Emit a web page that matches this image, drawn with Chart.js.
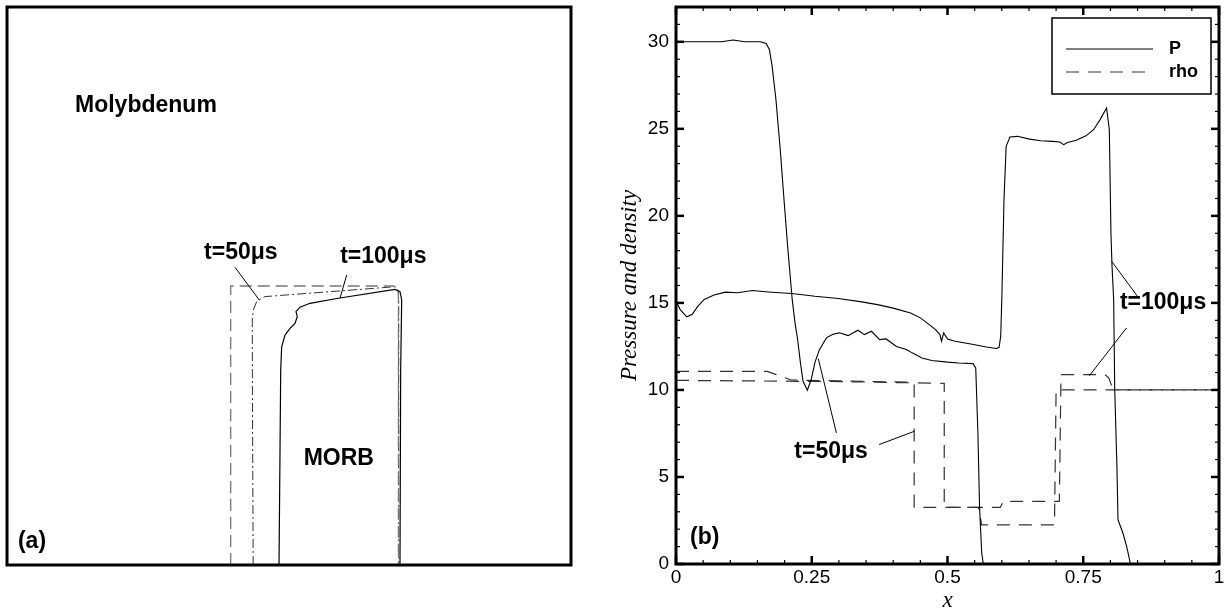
<!DOCTYPE html>
<html>
<head>
<meta charset="utf-8">
<script src="https://cdn.jsdelivr.net/npm/chart.js@4.4.1/dist/chart.umd.min.js"></script>
<style>
  html, body { margin: 0; padding: 0; background: #fff; }
  #wrap { position: relative; width: 1230px; height: 612px; }
  canvas { position: absolute; top: 0; }
  #panelA { left: 0; }
  #panelB { left: 615px; }
</style>
</head>
<body>
<div id="wrap">
  <canvas id="panelA" width="615" height="612"></canvas>
  <canvas id="panelB" width="615" height="612"></canvas>
</div>
<script>
// ---- panel (a): interface shapes, box coordinates 0..1 ----
const aInitX = [0.3966, 0.3966, 0.686, 0.692, 0.694, 0.694];
const aInitY = [0, 0.5, 0.5, 0.496, 0.488, 0];
const a50X = [0.4365, 0.4352, 0.4349, 0.4367, 0.4427, 0.4486, 0.4574, 0.688, 0.6935, 0.6945, 0.6945];
const a50Y = [0, 0.3, 0.439, 0.457, 0.472, 0.476, 0.481, 0.4987, 0.493, 0.475, 0];
const a100X = [0.4823, 0.4853, 0.487, 0.4929, 0.5018, 0.5106, 0.5147, 0.5124, 0.5195, 0.5372, 0.5874, 0.688, 0.6968, 0.6998, 0.698, 0.6968];
const a100Y = [0, 0.3495, 0.391, 0.412, 0.424, 0.433, 0.445, 0.454, 0.462, 0.469, 0.478, 0.494, 0.4898, 0.475, 0.3495, 0];

// ---- panel (b): pressure and density along x ----
const p50X = [0, 0.084, 0.105, 0.127, 0.156, 0.166, 0.172, 0.177, 0.184, 0.192, 0.199, 0.206, 0.214, 0.219, 0.224, 0.229, 0.234, 0.242, 0.249, 0.256, 0.264, 0.277, 0.289, 0.301, 0.317, 0.335, 0.347, 0.36, 0.375, 0.387, 0.406, 0.424, 0.435, 0.453, 0.471, 0.5, 0.521, 0.547, 0.552, 0.556, 0.559, 0.563, 0.566, 1];
const p50Y = [30, 30, 30.1, 30, 30, 29.9, 29.56, 28.6, 26.7, 23.8, 20.9, 18.1, 15.2, 13.9, 12.9, 11.6, 10.5, 9.98, 10.6, 11.6, 12.3, 12.99, 13.2, 13.28, 13.12, 13.43, 13.18, 13.37, 12.89, 12.93, 12.5, 12.32, 12.13, 11.84, 11.69, 11.6, 11.55, 11.51, 11.26, 7.5, 3.3, 0.63, 0, 0];
const p100X = [0, 0.008, 0.02, 0.03, 0.04, 0.052, 0.07, 0.091, 0.113, 0.141, 0.17, 0.213, 0.256, 0.299, 0.342, 0.371, 0.4, 0.432, 0.45, 0.464, 0.478, 0.486, 0.489, 0.493, 0.5, 0.514, 0.543, 0.572, 0.59, 0.595, 0.598, 0.6, 0.604, 0.608, 0.615, 0.629, 0.651, 0.672, 0.694, 0.707, 0.714, 0.721, 0.737, 0.755, 0.769, 0.781, 0.793, 0.798, 0.801, 0.803, 0.806, 0.808, 0.812, 0.814, 0.823, 0.83, 0.837, 1];
const p100Y = [15.1, 14.6, 14.2, 14.35, 14.8, 15.2, 15.45, 15.62, 15.58, 15.71, 15.63, 15.54, 15.38, 15.25, 15.06, 14.9, 14.7, 14.42, 14.14, 13.81, 13.47, 13.18, 12.8, 13.28, 12.93, 12.8, 12.64, 12.47, 12.38, 12.45, 13.08, 15.2, 20.9, 24.0, 24.53, 24.57, 24.41, 24.32, 24.28, 24.24, 24.09, 24.22, 24.34, 24.6, 24.95, 25.53, 26.2, 24.95, 19.0, 17.1, 15.2, 10.0, 5.6, 2.55, 1.78, 1.0, 0, 0];
const rho50X = [0, 0.168, 0.212, 0.4386, 0.4386, 0.557, 0.563, 0.697, 0.7, 1];
const rho50Y = [11.07, 11.07, 10.57, 10.44, 3.25, 3.25, 2.25, 2.25, 10.0, 10.0];
const rho100X = [0, 0.3, 0.494, 0.494, 0.597, 0.603, 0.706, 0.709, 0.79, 0.797, 0.805, 1];
const rho100Y = [10.55, 10.48, 10.38, 3.25, 3.25, 3.6, 3.6, 10.88, 10.88, 10.7, 10.0, 10.0];

const xTicks = [0, 0.25, 0.5, 0.75, 1];
const yTicks = [0, 5, 10, 15, 20, 25, 30];

const BOLD = 'bold 23px "Liberation Sans", Arial, sans-serif';

function pts(xs, ys) {
    return xs.map((x, i) => ({ x: x, y: ys[i] }));
}

function line(ctx, x1, y1, x2, y2) {
    ctx.beginPath();
    ctx.moveTo(x1, y1);
    ctx.lineTo(x2, y2);
    ctx.stroke();
}

// labels and leader lines are placed in data coordinates
function drawNotes(chart, notes, leaders) {
    const { ctx, scales: { x, y } } = chart;
    ctx.save();
    ctx.strokeStyle = '#000';
    ctx.lineWidth = 1;
    leaders.forEach(l => {
        line(ctx, x.getPixelForValue(l[0]), y.getPixelForValue(l[1]), x.getPixelForValue(l[2]), y.getPixelForValue(l[3]));
    });
    ctx.fillStyle = '#000';
    ctx.font = BOLD;
    ctx.textBaseline = 'middle';
    notes.forEach(n => {
        ctx.textAlign = n.align || 'center';
        ctx.fillText(n.text, x.getPixelForValue(n.x), y.getPixelForValue(n.y));
    });
    ctx.restore();
}

// Panel (a)
const notesA = [
    { text: 'Molybdenum', x: 0.1206, y: 0.8226, align: 'left' },
    { text: 'MORB', x: 0.5883, y: 0.191 },
    { text: '(a)', x: 0.0443, y: 0.0418 },
    { text: 't=50μs', x: 0.4146, y: 0.56 },
    { text: 't=100μs', x: 0.6672, y: 0.5525 }
];
const leadersA = [
    [0.4043, 0.5335, 0.4473, 0.4749],
    [0.6023, 0.5197, 0.5904, 0.478]
];

new Chart(document.getElementById('panelA'), {
    type: 'line',
    data: {
        datasets: [
            { data: pts(aInitX, aInitY), borderColor: '#777', borderWidth: 1.3, borderDash: [12, 6] },
            { data: pts(a50X, a50Y), borderColor: '#333', borderWidth: 1, borderDash: [9, 3, 2, 3] },
            { data: pts(a100X, a100Y), borderColor: '#000', borderWidth: 1.2 }
        ]
    },
    options: {
        responsive: false,
        animation: false,
        events: [],
        layout: { padding: { left: 7, top: 7, right: 44, bottom: 47 } },
        elements: { point: { radius: 0 }, line: { tension: 0 } },
        plugins: { legend: { display: false }, tooltip: { enabled: false } },
        scales: {
            x: { type: 'linear', min: 0, max: 1, display: false },
            y: { type: 'linear', min: 0, max: 1, display: false }
        }
    },
    plugins: [{
        id: 'boxA',
        afterDatasetsDraw(chart) {
            const { ctx, chartArea: a } = chart;
            ctx.save();
            ctx.strokeStyle = '#000';
            ctx.lineWidth = 3;
            ctx.strokeRect(a.left, a.top, a.width, a.height);
            ctx.restore();
            drawNotes(chart, notesA, leadersA);
        }
    }]
});

// Panel (b)
const notesB = [
    { text: '(b)', x: 0.053, y: 1.51 },
    { text: 't=50μs', x: 0.2857, y: 6.47 },
    { text: 't=100μs', x: 0.897, y: 15.0 }
];
const leadersB = [
    [0.2954, 7.53, 0.262, 11.8],
    [0.374, 6.86, 0.4386, 7.62],
    [0.852, 15.29, 0.8023, 17.39],
    [0.8296, 13.56, 0.7614, 10.82]
];

const ticksAndLegend = {
    id: 'ticksAndLegend',
    afterDatasetsDraw(chart) {
        const { ctx, chartArea: a, scales: { x, y } } = chart;
        ctx.save();
        ctx.strokeStyle = '#000';
        // minor ticks, pointing inward
        ctx.lineWidth = 1.2;
        for (let i = 0; i <= 20; i++) {
            const px = x.getPixelForValue(i * 0.05);
            line(ctx, px, a.bottom, px, a.bottom - 4);
            line(ctx, px, a.top, px, a.top + 4);
        }
        for (let v = 0; v <= 32; v++) {
            const py = y.getPixelForValue(v);
            line(ctx, a.left, py, a.left + 4, py);
            line(ctx, a.right, py, a.right - 4, py);
        }
        // major ticks
        ctx.lineWidth = 2.5;
        xTicks.forEach(v => {
            const px = x.getPixelForValue(v);
            line(ctx, px, a.bottom, px, a.bottom - 8);
            line(ctx, px, a.top, px, a.top + 8);
        });
        yTicks.forEach(v => {
            const py = y.getPixelForValue(v);
            line(ctx, a.left, py, a.left + 8, py);
            line(ctx, a.right, py, a.right - 8, py);
        });
        ctx.lineWidth = 3;
        ctx.strokeRect(a.left, a.top, a.width, a.height);

        // legend box
        const bx = a.right - 167, by = a.top + 11;
        ctx.lineWidth = 1.5;
        ctx.strokeRect(bx, by, 159, 76);
        const seen = [];
        chart.data.datasets.forEach(ds => {
            if (seen.indexOf(ds.label) >= 0) return;
            const ly = by + 31 + seen.length * 23;
            seen.push(ds.label);
            ctx.strokeStyle = ds.borderColor;
            ctx.lineWidth = ds.borderWidth;
            ctx.setLineDash(ds.borderDash || []);
            line(ctx, bx + 14, ly, bx + 101, ly);
            ctx.setLineDash([]);
            ctx.fillStyle = '#000';
            ctx.font = 'bold 18px "Liberation Sans", Arial, sans-serif';
            ctx.textAlign = 'left';
            ctx.textBaseline = 'middle';
            ctx.fillText(ds.label, bx + 117, ly);
        });
        ctx.restore();
        drawNotes(chart, notesB, leadersB);
    }
};

const tickFont = { family: '"Liberation Sans", Arial, sans-serif', size: 19 };
const titleFont = { family: '"Liberation Serif", "Times New Roman", serif', size: 23, style: 'italic', lineHeight: 1 };

new Chart(document.getElementById('panelB'), {
    type: 'line',
    data: {
        datasets: [
            { label: 'P', data: pts(p50X, p50Y), borderColor: '#000', borderWidth: 1.1 },
            { label: 'P', data: pts(p100X, p100Y), borderColor: '#000', borderWidth: 1.1 },
            { label: 'rho', data: pts(rho50X, rho50Y), borderColor: '#333', borderWidth: 1.2, borderDash: [13, 9] },
            { label: 'rho', data: pts(rho100X, rho100Y), borderColor: '#333', borderWidth: 1.2, borderDash: [13, 9] }
        ]
    },
    options: {
        responsive: false,
        animation: false,
        events: [],
        layout: { padding: { left: 0, top: 7, right: 11, bottom: 0 } },
        elements: { point: { radius: 0 }, line: { tension: 0 } },
        plugins: { legend: { display: false }, tooltip: { enabled: false } },
        scales: {
            x: {
                type: 'linear', min: 0, max: 1,
                grid: { display: false, drawTicks: false }, border: { display: false },
                afterBuildTicks: s => { s.ticks = xTicks.map(v => ({ value: v })); },
                afterFit: s => { s.height = 48; s.paddingLeft = 0; s.paddingRight = 0; },
                ticks: { color: '#000', font: tickFont, padding: 2, maxRotation: 0, callback: v => String(v) },
                title: { display: true, text: 'x', color: '#000', font: titleFont, padding: { top: 0, bottom: 0 } }
            },
            y: {
                type: 'linear', min: 0, max: 32,
                grid: { display: false, drawTicks: false }, border: { display: false },
                afterBuildTicks: s => { s.ticks = yTicks.map(v => ({ value: v })); },
                afterFit: s => { s.width = 61; s.paddingTop = 0; s.paddingBottom = 0; },
                ticks: { color: '#000', font: tickFont, padding: 7, callback: v => String(v) },
                title: { display: true, text: 'Pressure and density', color: '#000', font: titleFont, padding: { top: 3, bottom: 0 } }
            }
        }
    },
    plugins: [ticksAndLegend]
});
</script>
</body>
</html>
